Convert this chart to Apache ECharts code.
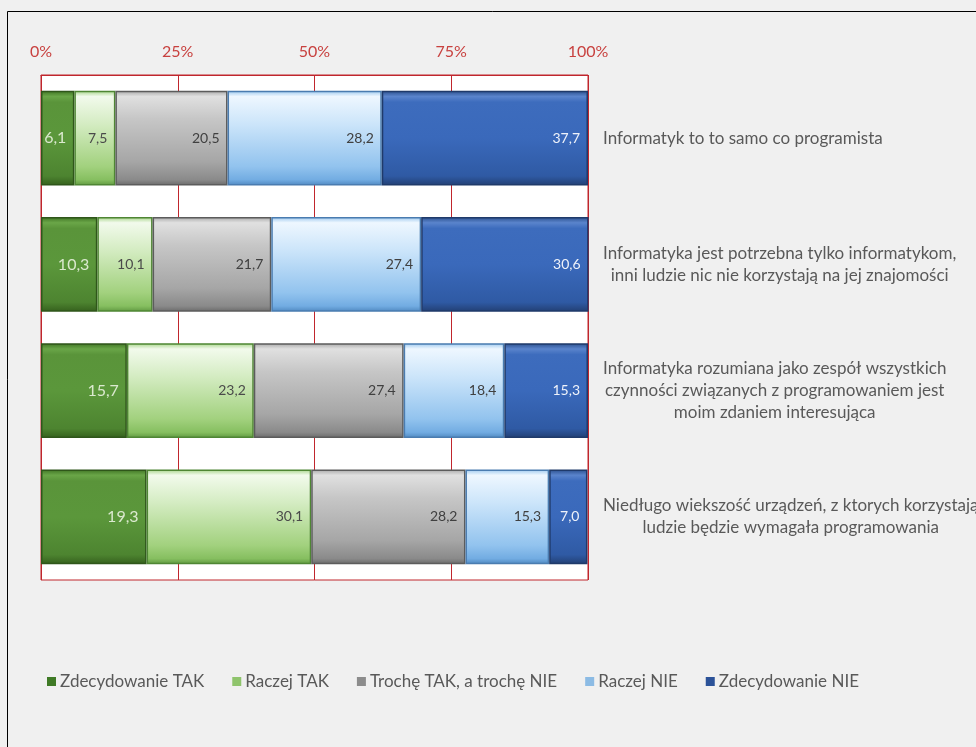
<!DOCTYPE html>
<html>
<head>
<meta charset="utf-8">
<script src="https://cdn.jsdelivr.net/npm/echarts@6/dist/echarts.min.js"></script>
<style>
  html, body { margin: 0; padding: 0; background: #f0f0f0; }
  #chart { width: 976px; height: 747px; }
</style>
</head>
<body>
<div id="chart"></div>
<script>
// Statements (one per bar), top to bottom
const categories = [
  ['Informatyk to to samo co programista'],
  ['Informatyka jest potrzebna tylko informatykom,', 'inni ludzie nic nie korzystają na jej znajomości'],
  ['Informatyka rozumiana jako zespół wszystkich', 'czynności związanych z programowaniem jest', 'moim zdaniem interesująca'],
  ['Niedługo wiekszość urządzeń, z ktorych korzystają', 'ludzie będzie wymagała programowania']
];

// Answer shares in percent
const zdecydowanieTak = [6.1, 10.3, 15.7, 19.3];
const raczejTak       = [7.5, 10.1, 23.2, 30.1];
const trocheTakNie    = [20.5, 21.7, 27.4, 28.2];
const raczejNie       = [28.2, 27.4, 18.4, 15.3];
const zdecydowanieNie = [37.7, 30.6, 15.3, 7.0];

const seriesNames = ['Zdecydowanie TAK', 'Raczej TAK', 'Trochę TAK, a trochę NIE', 'Raczej NIE', 'Zdecydowanie NIE'];
const seriesValues = [zdecydowanieTak, raczejTak, trocheTakNie, raczejNie, zdecydowanieNie];

const axisTicks = [0, 25, 50, 75, 100];

const FONT = 'Lato, "Open Sans", sans-serif';
const RED_LINE = '#c0262d';
const RED_TEXT = '#c8413f';

// bevel-like vertical gradients per answer
function grad(stops) {
  return new echarts.graphic.LinearGradient(0, 0, 0, 1,
    stops.map(s => ({ offset: s[0], color: s[1] })));
}
const styles = [
  { fill: grad([[0, '#3f7424'], [0.06, '#6aa648'], [0.12, '#5a943a'], [0.5, '#5b973b'], [0.9, '#4d8430'], [1, '#35601d']]),
    border: '#2f561a', label: '#dbe9cf', size: 16 },
  { fill: grad([[0, '#a6d488'], [0.06, '#f2faec'], [0.35, '#d4ecc2'], [0.8, '#a2d17e'], [0.94, '#86bf60'], [1, '#5f9840']]),
    border: '#4f8634', label: '#4a4a4a', size: 14 },
  { fill: grad([[0, '#a8a8a8'], [0.06, '#e0e0e0'], [0.3, '#c6c6c6'], [0.75, '#a6a6a6'], [0.94, '#8a8a8a'], [1, '#6a6a6a']]),
    border: '#5c5c5c', label: '#404040', size: 14 },
  { fill: grad([[0, '#9cc8ee'], [0.06, '#eef7ff'], [0.35, '#cce5fa'], [0.8, '#92c3ee'], [0.94, '#72ace2'], [1, '#4f88c0']]),
    border: '#4a7cb0', label: '#404040', size: 14 },
  { fill: grad([[0, '#2b4f8c'], [0.06, '#5a84cc'], [0.12, '#3d6cbd'], [0.5, '#3a69bb'], [0.9, '#2f5aa4'], [1, '#223f73']]),
    border: '#1f3a6a', label: '#eef2fa', size: 14 }
];

const legendColors = ['#3f7a26', '#8fc46c', '#8c8c8c', '#8cbbe4', '#2b5298'];

const series = seriesNames.map((name, i) => ({
  name: name,
  type: 'bar',
  stack: 'total',
  barWidth: '75%',
  data: seriesValues[i],
  itemStyle: {
    color: styles[i].fill,
    borderColor: styles[i].border,
    borderWidth: 1.5
  },
  label: {
    show: true,
    position: 'insideRight',
    distance: 8,
    fontFamily: FONT,
    fontSize: styles[i].size,
    color: styles[i].label,
    formatter: p => p.value.toFixed(1).replace('.', ',')
  },
  emphasis: { disabled: true }
}));

const chart = echarts.init(document.getElementById('chart'));
chart.setOption({
  backgroundColor: '#f0f0f0',
  animation: false,
  textStyle: { fontFamily: FONT },
  graphic: [{
    type: 'rect',
    shape: { x: 7.5, y: 11.5, width: 1000, height: 800 },
    style: { fill: 'none', stroke: '#000', lineWidth: 1 },
    silent: true
  }],
  grid: {
    left: 41, right: 388, top: 75, bottom: 167,
    containLabel: false,
    outerBoundsMode: 'none',
    show: true,
    backgroundColor: '#ffffff',
    borderColor: RED_LINE,
    borderWidth: 1
  },
  legend: {
    data: seriesNames.map((n, i) => ({
      name: n,
      itemStyle: { color: legendColors[i], borderWidth: 0 }
    })),
    left: 42, top: 668,
    icon: 'rect',
    itemWidth: 9, itemHeight: 9,
    itemGap: 28,
    textStyle: { fontFamily: FONT, fontSize: 17, color: '#595959', padding: [0, 0, 0, -1] },
    selectedMode: false
  },
  xAxis: {
    type: 'value',
    position: 'top',
    min: axisTicks[0],
    max: axisTicks[axisTicks.length - 1],
    interval: 25,
    axisLine: { show: true, lineStyle: { color: RED_LINE } },
    axisTick: { show: false },
    splitLine: { show: true, lineStyle: { color: RED_LINE, width: 1 } },
    axisLabel: {
      margin: 15,
      fontFamily: FONT, fontSize: 16, color: RED_TEXT,
      formatter: '{value}%'
    }
  },
  yAxis: {
    type: 'category',
    position: 'right',
    inverse: true,
    data: categories.map(lines => lines.join('\n')),
    axisLine: { show: false },
    axisTick: { show: false },
    axisLabel: {
      margin: 15,
      align: 'left',
      fontFamily: FONT, fontSize: 17, color: '#595959',
      formatter: v => v.split('\n').map(l => '{c|' + l + '}').join('\n'),
      rich: {
        c: { align: 'center', fontFamily: FONT, fontSize: 17, color: '#595959', lineHeight: 22 }
      }
    }
  },
  series: series
});
</script>
</body>
</html>
